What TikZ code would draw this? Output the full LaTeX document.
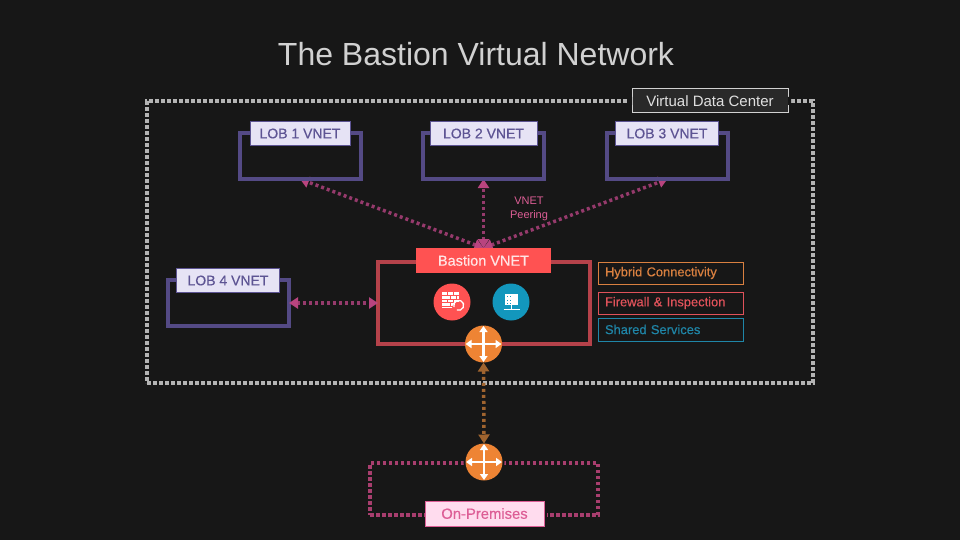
\documentclass[tikz,border=0pt]{standalone}
\usepackage{fontspec}
\setmainfont{Liberation Sans}
\usetikzlibrary{arrows.meta}
\pgfdeclarelayer{back}
\pgfdeclarelayer{mid}
\pgfsetlayers{back,mid,main}
\definecolor{bgc}{HTML}{171717}
\definecolor{purp}{HTML}{544A85}
\definecolor{purptxt}{HTML}{5D5493}
\definecolor{lavender}{HTML}{E6E3F5}
\definecolor{outerc}{HTML}{B4B4B4}
\definecolor{redline}{HTML}{B5424A}
\definecolor{redfill}{HTML}{FF5252}
\definecolor{pinkline}{HTML}{963A6C}
\definecolor{pinkhead}{HTML}{B9447F}
\definecolor{brownline}{HTML}{A0642F}
\definecolor{orangec}{HTML}{EE8434}
\definecolor{blueic}{HTML}{1397BD}
\definecolor{onpremline}{HTML}{A83E6E}
\definecolor{onpremtxt}{HTML}{DD5E96}
\definecolor{onpremfill}{HTML}{FFDCEE}
\definecolor{hybridc}{HTML}{D98040}
\definecolor{fwc}{HTML}{E0525A}
\definecolor{sharedc}{HTML}{1F86A8}
\newcommand{\px}[1]{\fontsize{#1}{#1}\selectfont}
\newcommand{\heavy}{\addfontfeatures{FakeBold=0.4}}
\tikzset{
  x=1pt,y=-1pt,
  every node/.style={inner sep=0pt,outer sep=0pt},
  vnetbox/.style={draw=purp,line width=4pt},
  vnetlabel/.style={draw=purptxt,line width=1pt,fill=lavender,text=purptxt,font=\px{14}\heavy},
  outerbox/.style={draw=outerc,line width=4pt,dash pattern=on 4pt off 2pt},
  dclabel/.style={draw=white!82!black,line width=1pt,fill=white!16!black,text=white!88!black,font=\px{15}},
  bastionbox/.style={draw=redline,line width=4pt},
  bastionlabel/.style={fill=redfill,text=white!90!red,font=\px{14.5}\heavy},
  premisesbox/.style={draw=onpremline,line width=4pt,dash pattern=on 3.5pt off 2.5pt},
  premiseslabel/.style={draw=onpremtxt,line width=1pt,fill=onpremfill,text=onpremtxt,font=\px{14.8}\heavy},
  legend/.style={line width=1pt,fill=bgc,font=\px{12.9}\heavy,text width=131pt,align=left,minimum width=145pt,inner xsep=7pt,anchor=west},
  peer/.style={draw=pinkline,line width=3.5pt,dash pattern=on 3pt off 3pt,
    {Triangle[length=9pt,width=11pt,color=pinkhead]}-{Triangle[length=9pt,width=11pt,color=pinkhead]}},
  hybridlink/.style={draw=brownline,line width=3.5pt,dash pattern=on 3pt off 3pt,
    {Triangle[length=9pt,width=11pt,color=brownline]}-{Triangle[length=9pt,width=11pt,color=brownline]}},
  iconcircle/.style={circle,minimum size=37pt},
  routerarrow/.style={draw=white,line width=2.2pt,{Triangle[length=6pt,width=8pt]}-{Triangle[length=6pt,width=8pt]}},
}
\newcommand{\routercross}[1]{%
  \draw[routerarrow] ([xshift=-18pt]#1.center) -- ([xshift=18pt]#1.center);
  \draw[routerarrow] ([yshift=-18pt]#1.center) -- ([yshift=18pt]#1.center);}
\begin{document}
\begin{tikzpicture}
\begin{pgfonlayer}{back}
  \fill[bgc] (0,0) rectangle (960,540);
\end{pgfonlayer}
\useasboundingbox (0,0) rectangle (960,540);

\node[text=white!82!black,font=\px{32}] (title) at (476,54) {The Bastion Virtual Network};

% outer virtual data center
\node[outerbox,minimum width=666pt,minimum height=282pt] (outer) at (480,242) {};
\node[dclabel,minimum width=156pt,minimum height=24pt] (dc) at (710,101) {Virtual Data Center};
\fill[bgc] (627,97) rectangle (632,105) (788,97) rectangle (791,105);

% LOB boxes
\node[vnetbox,minimum width=121pt,minimum height=46pt] (lob1) at (300,156) {};
\node[vnetlabel,minimum width=100pt,minimum height=24pt] (lob1l) at (300,133.5) {LOB 1 VNET};
\node[vnetbox,minimum width=121pt,minimum height=46pt] (lob2) at (483.5,156) {};
\node[vnetlabel,minimum width=107pt,minimum height=24pt] (lob2l) at (483.5,133.5) {LOB 2 VNET};
\node[vnetbox,minimum width=121pt,minimum height=46pt] (lob3) at (667.5,156) {};
\node[vnetlabel,minimum width=103pt,minimum height=24pt] (lob3l) at (667,133.5) {LOB 3 VNET};
\node[vnetbox,minimum width=121pt,minimum height=46pt] (lob4) at (228.5,303) {};
\node[vnetlabel,minimum width=103pt,minimum height=24pt] (lob4l) at (228,280.5) {LOB 4 VNET};

% bastion
\node[bastionbox,minimum width=212pt,minimum height=82pt] (bastion) at (484,303) {};
\node[bastionlabel,minimum width=135pt,minimum height=25pt] (bastionl) at (483.5,260.5) {Bastion VNET};

\node[iconcircle,fill=redfill] (fw) at (452,302) {};
\node[iconcircle,fill=blueic] (srv) at (511,302) {};
\node[iconcircle,fill=orangec] (r1) at (483.5,344) {};
\routercross{r1}

% firewall icon
\fill[white] ([shift={(-10,-10)}]fw.center) rectangle ([shift={(7,6)}]fw.center);
\foreach \yy in {-6.5,-3,0.5,4}
  \draw[redfill,line width=0.6pt] ([shift={(-10,\yy)}]fw.center) -- ([shift={(7,\yy)}]fw.center);
\foreach \xx/\yt/\yb in {-5/-10/-6.5,1/-10/-6.5,-2/-6.5/-3,4/-6.5/-3,-5/-3/0.5,1/-3/0.5,-2/0.5/4,4/0.5/4}
  \draw[redfill,line width=0.6pt] ([shift={(\xx,\yt)}]fw.center) -- ([shift={(\xx,\yb)}]fw.center);
\fill[redfill] ([shift={(6.5,6.5)}]fw.center) circle (6.5pt);
\draw[white,line width=1.3pt] ([shift={(2,5)}]fw.center) arc (200:-110:5pt);

% server icon
\fill[white] ([shift={(-6.5,-8)}]srv.center) rectangle ([shift={(7,3)}]srv.center);
\foreach \yy in {-6,-2.5,0.5}
  \foreach \xx in {-4.5,-1.5}
    \fill[blueic] ([shift={(\xx,\yy)}]srv.center) rectangle ++(1.2,1.2);
\draw[white,line width=1.5pt] ([shift={(0.5,3)}]srv.center) -- ([shift={(0.5,7)}]srv.center);
\draw[white,line width=1pt] ([shift={(-7.5,7)}]srv.center) -- ([shift={(8.5,7)}]srv.center);

% on-premises
\node[premisesbox,minimum width=228pt,minimum height=52pt] (prem) at (484,489) {};
\node[iconcircle,fill=bgc,minimum size=41pt] (r2bg) at (484,462) {};
\node[iconcircle,fill=orangec] (r2) at (484,462) {};
\routercross{r2}
\node[draw=bgc,line width=2pt,minimum width=123pt,minimum height=29pt] (premgap) at (484.5,513.5) {};
\node[premiseslabel,minimum width=119pt,minimum height=25pt] (preml) at (484.5,513.5) {On-Premises};

% connectors
\begin{pgfonlayer}{mid}
  \draw[peer] (bastionl.north) -- (lob1.south);
  \draw[peer] (bastionl.north) -- (lob2.south);
  \draw[peer] (bastionl.north) -- (lob3.south);
\end{pgfonlayer}
\draw[peer] (lob4.east) -- (bastion.west);
\draw[hybridlink] (r1.south) -- (r2.north);

\node[text=onpremtxt,font=\px{11},align=center] (peering) at (529,209) {VNET\\[2.5pt]Peering};

% legend
\node[legend,draw=hybridc,text=hybridc,minimum height=22pt] (hyb) at (598,273) {Hybrid Connectivity};
\node[legend,draw=fwc,text=fwc,minimum height=22pt] (fwl) at (598,303) {Firewall \& Inspection};
\node[legend,draw=sharedc,text=sharedc,minimum height=23pt] (sh) at (598,329.5) {Shared Services};
\end{tikzpicture}
\end{document}
